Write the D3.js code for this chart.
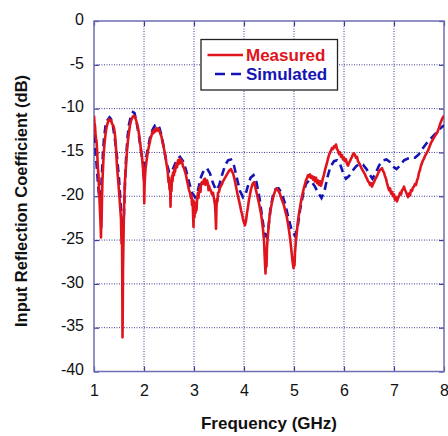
<!DOCTYPE html>
<html>
<head>
<meta charset="utf-8">
<script src="https://cdn.jsdelivr.net/npm/d3@7"></script>
<style>
  html, body { margin: 0; padding: 0; background: #fff; }
  svg { display: block; font-family: "Liberation Sans", Arial, sans-serif; }
</style>
</head>
<body>
<svg id="chart" width="448" height="436"></svg>
<script>
// Frequency axis ticks (GHz) and reflection axis ticks (dB)
const xTicks = [1, 2, 3, 4, 5, 6, 7, 8];
const yTicks = [0, -5, -10, -15, -20, -25, -30, -35, -40];

// Measured S11: [frequency GHz, dB]
const measured = [
  [1.00,-10.8],[1.01,-11.6],[1.02,-12.0],[1.03,-12.9],[1.04,-13.4],[1.05,-13.7],[1.06,-14.6],[1.07,-15.8],
  [1.08,-16.9],[1.09,-17.6],[1.10,-19.2],[1.11,-20.3],[1.12,-21.8],[1.13,-23.0],[1.14,-24.7],[1.145,-22.5],
  [1.15,-23.6],[1.16,-20.2],[1.17,-18.1],[1.18,-16.8],[1.19,-15.6],[1.20,-14.7],[1.22,-13.4],[1.24,-12.5],
  [1.26,-11.9],[1.28,-11.5],[1.30,-11.2],[1.32,-11.4],[1.34,-11.3],[1.36,-11.7],[1.38,-11.9],[1.40,-12.2],
  [1.42,-13.0],[1.44,-14.5],[1.46,-16.6],[1.48,-18.0],[1.50,-19.4],[1.52,-21.0],[1.54,-22.6],[1.55,-25.4],
  [1.56,-24.0],[1.565,-29.0],[1.57,-36.1],[1.575,-33.0],[1.58,-28.5],[1.59,-24.8],[1.60,-21.5],[1.61,-19.8],
  [1.62,-18.2],[1.64,-16.5],[1.66,-14.8],[1.68,-13.6],[1.70,-12.7],[1.72,-11.9],[1.74,-11.4],[1.76,-11.1],
  [1.78,-10.9],[1.80,-10.8],[1.82,-11.0],[1.84,-11.3],[1.86,-11.7],[1.88,-12.2],[1.90,-12.9],[1.92,-13.8],
  [1.94,-14.7],[1.96,-15.6],[1.98,-16.8],[1.99,-17.9],[2.00,-18.4],[2.005,-20.8],[2.01,-19.0],[2.02,-17.8],
  [2.03,-16.9],[2.05,-16.0],[2.07,-15.2],[2.09,-14.5],[2.11,-14.0],[2.13,-13.4],[2.15,-13.1],[2.17,-12.6],
  [2.19,-12.8],[2.21,-12.4],[2.23,-12.6],[2.25,-12.2],[2.27,-12.5],[2.29,-12.3],[2.31,-12.6],[2.33,-12.9],
  [2.35,-13.2],[2.37,-13.8],[2.39,-14.3],[2.41,-14.9],[2.43,-15.5],[2.45,-16.3],[2.47,-17.0],[2.48,-17.6],
  [2.49,-18.4],[2.50,-17.9],[2.51,-19.2],[2.52,-18.2],[2.53,-21.2],[2.54,-18.6],[2.55,-19.4],[2.56,-17.7],
  [2.57,-18.3],[2.58,-17.3],[2.60,-17.6],[2.61,-16.8],[2.62,-17.2],[2.64,-16.3],[2.66,-16.7],[2.68,-15.9],
  [2.70,-16.3],[2.72,-15.7],[2.74,-16.2],[2.76,-16.0],[2.78,-16.6],[2.80,-16.8],[2.82,-17.2],[2.84,-17.6],
  [2.86,-18.2],[2.88,-18.7],[2.90,-19.3],[2.92,-19.6],[2.94,-20.2],[2.95,-19.8],[2.96,-21.0],[2.97,-20.4],
  [2.98,-21.8],[2.99,-23.5],[3.00,-20.6],[3.01,-22.4],[3.02,-20.8],[3.03,-21.9],[3.04,-20.9],[3.05,-21.6],
  [3.06,-20.5],[3.07,-20.0],[3.08,-19.6],[3.09,-20.2],[3.10,-19.4],[3.12,-18.9],[3.13,-19.5],[3.14,-18.6],
  [3.16,-18.4],[3.18,-18.6],[3.20,-18.1],[3.22,-18.0],[3.23,-18.7],[3.24,-18.3],[3.26,-18.2],[3.28,-18.6],
  [3.29,-19.3],[3.30,-18.8],[3.32,-19.2],[3.34,-19.4],[3.36,-19.8],[3.38,-19.6],[3.40,-20.3],[3.42,-21.0],
  [3.43,-22.0],[3.44,-23.7],[3.45,-21.2],[3.46,-20.3],[3.47,-20.6],[3.48,-19.6],[3.50,-19.5],[3.52,-19.0],
  [3.54,-18.8],[3.56,-18.6],[3.58,-18.3],[3.60,-18.1],[3.62,-17.9],[3.64,-17.7],[3.66,-17.5],[3.68,-17.3],
  [3.70,-17.1],[3.72,-17.0],[3.74,-16.9],[3.76,-17.2],[3.78,-17.4],[3.80,-17.8],[3.82,-18.3],[3.84,-18.9],
  [3.86,-19.5],[3.88,-20.0],[3.90,-20.5],[3.92,-21.0],[3.94,-21.6],[3.96,-22.0],[3.98,-22.6],[4.00,-23.0],
  [4.02,-23.3],[4.04,-22.8],[4.06,-21.9],[4.08,-21.2],[4.10,-20.4],[4.12,-19.8],[4.14,-19.2],[4.16,-18.8],
  [4.18,-18.5],[4.20,-18.4],[4.22,-18.8],[4.24,-19.3],[4.26,-19.8],[4.28,-20.3],[4.30,-20.8],[4.32,-21.4],
  [4.34,-22.0],[4.36,-22.8],[4.38,-23.8],[4.40,-25.0],[4.41,-26.4],[4.42,-27.6],[4.43,-28.8],[4.44,-27.0],
  [4.45,-28.0],[4.46,-25.8],[4.47,-25.0],[4.49,-23.6],[4.51,-22.4],[4.53,-21.6],[4.55,-21.0],[4.57,-20.4],
  [4.59,-20.0],[4.61,-19.6],[4.63,-19.3],[4.65,-19.1],[4.67,-19.2],[4.69,-19.4],[4.71,-19.6],[4.73,-19.9],
  [4.75,-20.3],[4.77,-20.6],[4.79,-20.9],[4.81,-21.3],[4.83,-21.8],[4.85,-22.2],[4.87,-22.8],[4.89,-23.5],
  [4.91,-24.3],[4.93,-25.2],[4.95,-26.3],[4.97,-27.4],[4.99,-28.2],[5.00,-27.2],[5.01,-27.9],[5.02,-26.4],
  [5.04,-25.0],[5.06,-23.9],[5.08,-22.8],[5.10,-22.0],[5.12,-21.3],[5.14,-20.6],[5.16,-20.0],[5.18,-19.5],
  [5.20,-19.0],[5.22,-18.6],[5.24,-18.2],[5.26,-17.9],[5.28,-17.6],[5.30,-17.8],[5.32,-17.5],[5.34,-17.9],
  [5.36,-17.7],[5.38,-18.1],[5.40,-17.8],[5.42,-18.3],[5.44,-17.9],[5.46,-18.5],[5.48,-18.2],[5.50,-18.7],
  [5.52,-18.3],[5.54,-18.8],[5.56,-18.4],[5.58,-17.9],[5.60,-17.5],[5.62,-17.0],[5.64,-16.6],[5.66,-16.2],
  [5.68,-15.7],[5.70,-15.3],[5.72,-15.0],[5.74,-14.8],[5.76,-14.5],[5.78,-14.6],[5.80,-14.3],[5.82,-14.4],
  [5.84,-14.1],[5.86,-14.6],[5.88,-14.8],[5.90,-15.2],[5.92,-15.0],[5.94,-15.5],[5.96,-15.3],[5.98,-15.8],
  [6.00,-15.6],[6.02,-16.0],[6.04,-15.8],[6.06,-16.3],[6.08,-16.5],[6.10,-16.2],[6.12,-16.0],[6.14,-15.7],
  [6.16,-15.5],[6.18,-15.2],[6.20,-15.1],[6.22,-15.3],[6.24,-15.6],[6.26,-15.5],[6.28,-16.0],[6.30,-16.2],
  [6.32,-16.4],[6.34,-16.7],[6.36,-16.9],[6.38,-17.1],[6.40,-17.3],[6.42,-17.5],[6.44,-17.8],[6.46,-18.0],
  [6.48,-18.3],[6.50,-18.4],[6.52,-18.7],[6.54,-18.5],[6.56,-18.9],[6.58,-18.6],[6.60,-18.4],[6.62,-18.1],
  [6.64,-17.9],[6.66,-17.7],[6.68,-17.4],[6.70,-17.2],[6.72,-17.0],[6.74,-16.9],[6.76,-16.8],[6.78,-17.1],
  [6.80,-17.3],[6.82,-17.7],[6.84,-18.0],[6.86,-18.5],[6.88,-18.9],[6.90,-19.3],[6.92,-19.1],[6.94,-19.7],
  [6.96,-19.5],[6.98,-20.0],[7.00,-19.8],[7.02,-20.4],[7.04,-20.1],[7.06,-20.6],[7.08,-20.2],[7.10,-20.0],
  [7.12,-19.6],[7.14,-19.8],[7.16,-19.3],[7.18,-19.2],[7.20,-18.9],[7.22,-19.3],[7.24,-19.5],[7.26,-19.8],
  [7.28,-20.1],[7.30,-19.7],[7.32,-19.9],[7.34,-19.3],[7.36,-19.4],[7.38,-19.0],[7.40,-18.9],[7.42,-18.6],
  [7.44,-18.7],[7.46,-18.2],[7.48,-17.9],[7.50,-17.3],[7.52,-17.0],[7.54,-16.5],[7.56,-16.2],[7.58,-15.9],
  [7.60,-15.7],[7.62,-15.4],[7.64,-15.2],[7.66,-15.0],[7.68,-14.8],[7.70,-14.5],[7.72,-14.2],[7.74,-13.9],
  [7.76,-13.7],[7.78,-13.5],[7.80,-13.3],[7.82,-13.1],[7.84,-12.9],[7.86,-12.8],[7.88,-12.5],[7.90,-12.2],
  [7.92,-11.8],[7.94,-11.5],[7.96,-11.2],[7.98,-11.0],[8.00,-10.8]
];

// Simulated S11: [frequency GHz, dB]
const simulated = [
  [1.00,-13.0],[1.02,-14.0],[1.04,-15.5],[1.06,-17.0],[1.08,-18.6],[1.10,-19.8],[1.12,-20.3],[1.14,-19.6],
  [1.16,-17.2],[1.18,-15.0],[1.20,-13.4],[1.23,-12.0],[1.27,-11.3],[1.31,-11.0],[1.34,-11.2],[1.38,-12.0],
  [1.42,-13.6],[1.46,-15.5],[1.50,-18.0],[1.53,-20.5],[1.56,-23.5],[1.58,-24.5],[1.60,-22.0],[1.62,-18.5],
  [1.64,-15.8],[1.67,-13.3],[1.70,-11.8],[1.74,-10.8],[1.78,-10.4],[1.81,-10.5],[1.85,-11.5],[1.89,-12.8],
  [1.93,-14.4],[1.97,-16.0],[2.00,-16.5],[2.03,-16.0],[2.07,-14.8],[2.12,-13.3],[2.17,-12.4],[2.22,-11.9],
  [2.27,-11.8],[2.31,-12.2],[2.36,-13.3],[2.40,-14.6],[2.45,-16.2],[2.50,-17.2],[2.55,-17.3],[2.60,-16.6],
  [2.66,-15.8],[2.72,-15.5],[2.78,-16.0],[2.84,-17.0],[2.90,-18.4],[2.96,-19.6],[3.02,-20.1],[3.08,-19.3],
  [3.14,-17.8],[3.20,-17.0],[3.26,-16.8],[3.32,-17.4],[3.38,-18.5],[3.44,-19.3],[3.50,-18.8],[3.56,-17.6],
  [3.62,-16.5],[3.68,-15.9],[3.74,-15.8],[3.80,-16.5],[3.86,-18.0],[3.92,-19.4],[3.98,-20.1],[4.03,-19.8],
  [4.08,-18.8],[4.13,-17.9],[4.19,-17.6],[4.25,-18.4],[4.31,-20.2],[4.36,-22.3],[4.41,-24.2],[4.45,-24.6],
  [4.49,-23.5],[4.53,-21.4],[4.58,-19.9],[4.63,-19.2],[4.69,-19.1],[4.75,-19.6],[4.82,-20.8],[4.89,-22.5],
  [4.95,-23.8],[5.02,-24.5],[5.07,-23.6],[5.12,-21.6],[5.18,-19.8],[5.24,-18.6],[5.30,-18.2],[5.36,-18.4],
  [5.42,-18.9],[5.48,-19.6],[5.55,-20.2],[5.61,-19.4],[5.67,-17.8],[5.73,-16.6],[5.80,-16.0],[5.86,-15.9],
  [5.92,-16.3],[5.98,-17.3],[6.04,-18.0],[6.10,-17.7],[6.17,-17.1],[6.24,-16.6],[6.31,-16.3],[6.38,-16.4],
  [6.45,-16.9],[6.52,-17.6],[6.57,-18.0],[6.63,-17.4],[6.70,-16.5],[6.78,-15.9],[6.85,-15.8],[6.92,-16.1],
  [6.98,-16.6],[7.05,-16.9],[7.12,-16.5],[7.20,-15.9],[7.28,-15.7],[7.35,-15.6],[7.42,-15.6],[7.50,-15.2],
  [7.58,-14.5],[7.66,-13.9],[7.74,-13.4],[7.82,-12.9],[7.90,-12.4],[8.00,-11.9]
];

const seriesNames = ["Measured", "Simulated"];
const seriesColors = ["#e0141c", "#1414b4"];

const margin = { left: 94, top: 21, right: 4, bottom: 64.5 };
const W = 448, H = 436;
const iw = W - margin.left - margin.right;
const ih = H - margin.top - margin.bottom;

const svg = d3.select("#chart");
const g = svg.append("g").attr("transform", `translate(${margin.left},${margin.top})`);

const x = d3.scaleLinear().domain([1, 8]).range([0, iw]);
const y = d3.scaleLinear().domain([-40, 0]).range([ih, 0]);

const frameColor = "#6e6eb4";
const gridColor = "#3c3c96";
const plain = d => String(d).replace("\u2212", "-");

// dotted grid
g.append("g").selectAll("line.vg").data(xTicks.slice(1, -1)).join("line")
  .attr("x1", d => x(d)).attr("x2", d => x(d)).attr("y1", 0).attr("y2", ih)
  .attr("stroke", gridColor).attr("stroke-width", 1).attr("stroke-dasharray", "1,1.5");
g.append("g").selectAll("line.hg").data(yTicks.slice(1, -1)).join("line")
  .attr("y1", d => y(d)).attr("y2", d => y(d)).attr("x1", 0).attr("x2", iw)
  .attr("stroke", gridColor).attr("stroke-width", 1).attr("stroke-dasharray", "1,1.5");

// axes with inward ticks
const xAxis = g.append("g").attr("transform", `translate(0,${ih})`)
  .call(d3.axisBottom(x).tickValues(xTicks).tickFormat(plain)
    .tickSizeInner(-5).tickSizeOuter(0).tickPadding(13));
const yAxis = g.append("g")
  .call(d3.axisLeft(y).tickValues(yTicks).tickFormat(plain)
    .tickSizeInner(-5).tickSizeOuter(0).tickPadding(10));
const xTop = g.append("g")
  .call(d3.axisTop(x).tickValues(xTicks).tickSizeInner(-5).tickSizeOuter(0).tickFormat(""));
const yRight = g.append("g").attr("transform", `translate(${iw},0)`)
  .call(d3.axisRight(y).tickValues(yTicks).tickSizeInner(-5).tickSizeOuter(0).tickFormat(""));

[xAxis, yAxis, xTop, yRight].forEach(a => {
  a.select(".domain").remove();
  a.selectAll(".tick line").attr("stroke", gridColor).attr("stroke-width", 1.2);
});
xAxis.selectAll("text").attr("font-size", 16).attr("fill", "#111")
  .attr("font-family", "'Liberation Sans', Arial, sans-serif");
yAxis.selectAll("text").attr("font-size", 16).attr("fill", "#111")
  .attr("font-family", "'Liberation Sans', Arial, sans-serif")
  .attr("dy", "0.2em");

// plot frame
g.append("rect").attr("x", 0).attr("y", 0).attr("width", iw).attr("height", ih)
  .attr("fill", "none").attr("stroke", frameColor).attr("stroke-width", 1.5);

// curves
const clip = svg.append("defs").append("clipPath").attr("id", "plotclip");
clip.append("rect").attr("x", 0).attr("y", 0).attr("width", iw).attr("height", ih);
const line = d3.line().x(d => x(d[0])).y(d => y(d[1]));
const curves = g.append("g").attr("clip-path", "url(#plotclip)");

curves.append("path").datum(simulated).attr("d", line)
  .attr("fill", "none").attr("stroke", seriesColors[1]).attr("stroke-width", 2.6)
  .attr("stroke-dasharray", "8,5");
curves.append("path").datum(measured).attr("d", line)
  .attr("fill", "none").attr("stroke", seriesColors[0]).attr("stroke-width", 2.6)
  .attr("stroke-linejoin", "round");

// legend
const lg = svg.append("g");
lg.append("rect").attr("x", 201).attr("y", 39.5).attr("width", 136.5).attr("height", 50.5)
  .attr("fill", "#fff").attr("stroke", "#222").attr("stroke-width", 1.3);
lg.append("line").attr("x1", 207.5).attr("x2", 243).attr("y1", 55).attr("y2", 55)
  .attr("stroke", seriesColors[0]).attr("stroke-width", 2.4);
lg.append("line").attr("x1", 215).attr("x2", 241).attr("y1", 74).attr("y2", 74)
  .attr("stroke", seriesColors[1]).attr("stroke-width", 2.6).attr("stroke-dasharray", "10,6");
lg.selectAll("text").data(seriesNames).join("text")
  .attr("x", 246).attr("y", (d, i) => 61 + i * 19)
  .attr("font-size", 17).attr("font-weight", "bold")
  .attr("fill", (d, i) => seriesColors[i]).text(d => d);

// axis titles
svg.append("text").attr("x", 269).attr("y", 428.5).attr("text-anchor", "middle")
  .attr("font-size", 17).attr("font-weight", "bold").attr("fill", "#111")
  .text("Frequency (GHz)");
svg.append("text").attr("transform", "translate(27,201) rotate(-90)").attr("text-anchor", "middle")
  .attr("font-size", 16.5).attr("font-weight", "bold").attr("fill", "#111")
  .text("Input Reflection Coefficient (dB)");
</script>
</body>
</html>
